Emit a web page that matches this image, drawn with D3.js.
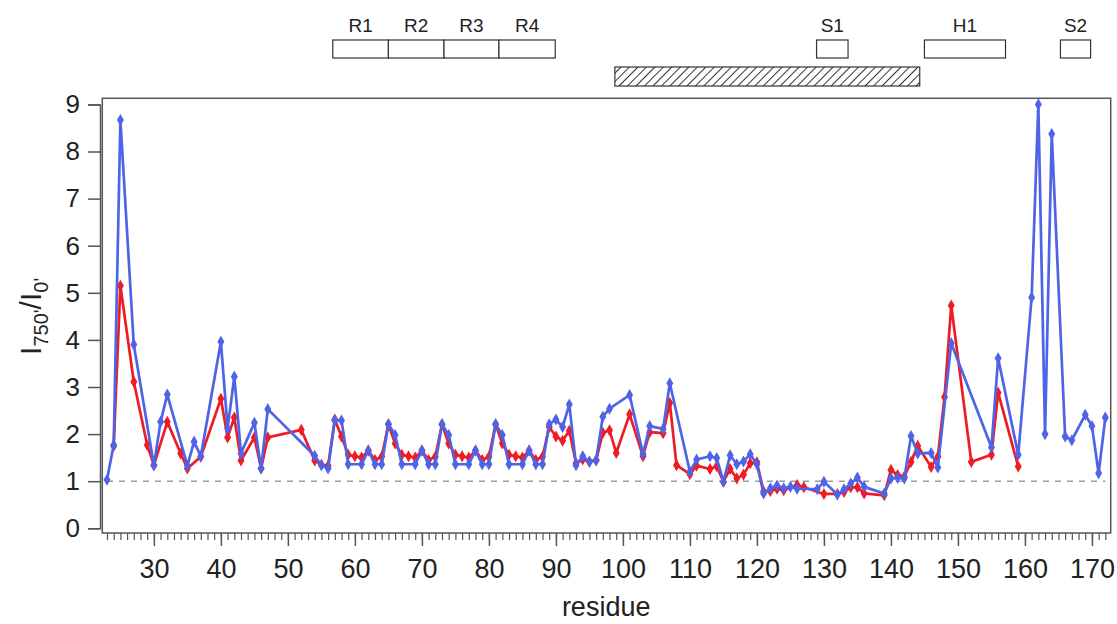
<!DOCTYPE html>
<html>
<head>
<meta charset="utf-8">
<script src="https://cdn.jsdelivr.net/npm/d3@7/dist/d3.min.js"></script>
<style>
  body { margin: 0; background: #fff; }
  svg { display: block; font-family: Arial, "Liberation Sans", sans-serif; }
</style>
</head>
<body>
<div id="chart"></div>
<script>
// blue series (residue, ratio)
const blueRes = [23,24,25,27,30,31,32,35,36,37,40,41,42,43,45,46,47,54,55,56,
  57,58,59,61,62,63,64,65,66,67,69,70,71,72,73,74,75,77,78,79,80,81,82,83,85,86,87,88,89,
  90,91,92,93,94,95,96,97,98,101,103,104,106,107,110,111,113,114,115,116,117,118,119,120,
  121,122,123,124,125,126,129,130,132,133,134,135,136,139,140,141,142,143,144,146,147,149,
  155,156,159,161,162,163,164,166,167,169,170,171,172];
const blueVal = [1.03,1.77,8.67,3.90,1.34,2.26,2.84,1.33,1.84,1.53,3.96,2.12,3.22,1.59,2.24,1.27,2.53,1.54,1.34,1.27,
  2.29,2.29,1.36,1.36,1.65,1.36,1.36,2.21,1.98,1.36,1.36,1.65,1.36,1.36,2.21,1.98,1.36,1.36,1.65,1.36,1.36,2.21,1.98,1.36,1.36,1.65,1.36,1.36,2.21,
  2.31,2.15,2.63,1.34,1.53,1.41,1.45,2.37,2.54,2.83,1.58,2.17,2.11,3.08,1.20,1.46,1.53,1.49,0.99,1.55,1.36,1.42,1.57,1.36,
  0.74,0.85,0.91,0.85,0.88,0.84,0.83,0.99,0.72,0.83,0.95,1.08,0.88,0.74,1.06,1.07,1.06,1.96,1.59,1.60,1.29,3.93,
  1.72,3.61,1.56,4.90,9.00,2.00,8.37,1.95,1.87,2.41,2.17,1.17,2.35];

// red series
const redRes = [24,25,27,29,30,32,34,35,37,40,41,42,43,45,46,47,52,54,55,56,
  57,58,59,60,61,62,63,64,65,66,67,68,69,70,71,72,73,74,75,76,77,78,79,80,81,82,83,84,85,86,87,88,89,
  90,91,92,93,94,95,96,97,98,99,101,103,104,106,107,108,110,111,113,114,115,116,117,118,119,120,
  121,122,123,124,126,127,130,132,133,134,135,136,139,140,141,142,143,144,146,147,148,149,152,155,156,159];
const redVal = [1.75,5.15,3.11,1.77,1.34,2.26,1.59,1.27,1.52,2.75,1.93,2.35,1.44,1.93,1.27,1.93,2.09,1.44,1.35,1.33,
  2.31,1.95,1.56,1.53,1.50,1.65,1.45,1.52,2.21,1.80,1.56,1.53,1.50,1.65,1.45,1.52,2.21,1.80,1.56,1.53,1.50,1.65,1.45,1.52,2.21,1.80,1.56,1.53,1.50,1.65,1.45,1.52,2.15,
  1.95,1.86,2.07,1.38,1.46,1.42,1.44,2.03,2.08,1.60,2.42,1.53,2.04,2.02,2.66,1.34,1.15,1.33,1.26,1.32,0.99,1.26,1.06,1.14,1.38,1.40,
  0.78,0.79,0.84,0.81,0.92,0.87,0.73,0.73,0.77,0.87,0.87,0.74,0.70,1.24,1.13,1.10,1.41,1.75,1.30,1.52,2.79,4.73,1.41,1.56,2.88,1.31];

// ticks
const yTicks = [0,1,2,3,4,5,6,7,8,9];
const xMajor = [30,40,50,60,70,80,90,100,110,120,130,140,150,160,170];
const xMinor = d3.range(23, 173);

// domain annotations above the plot (residue ranges)
const boxNames = ["R1","R2","R3","R4","S1","H1","S2"];
const boxStart = [56.7,65.0,73.3,81.5,128.9,145.0,165.3];
const boxEnd   = [65.0,73.3,81.5,89.9,133.6,157.1,169.8];
const hatchRange = [98.8, 144.3];

const W = 1117, H = 624;
const svg = d3.select("#chart").append("svg").attr("width", W).attr("height", H);

const x = d3.scaleLinear().domain([22.3, 172.8]).range([102.3, 1110.7]);
const y = d3.scaleLinear().domain([0, 9]).range([528.3, 104.4]);
const yLo = -0.1, yHi = 9.13;

const blue = "#4f63e6", red = "#ee1c25";

// frame
svg.append("rect")
  .attr("x", x(22.3)).attr("y", y(yHi))
  .attr("width", x(172.8) - x(22.3)).attr("height", y(yLo) - y(yHi))
  .attr("fill", "none").attr("stroke", "#555").attr("stroke-width", 1.5);

// y axis
const gy = svg.append("g").attr("transform", "translate(100,0)")
  .call(d3.axisLeft(y).tickValues(yTicks).tickSize(12).tickPadding(8).tickFormat(d3.format("d")));
gy.selectAll("text").attr("font-size", 26).attr("fill", "#222");
gy.selectAll("line, path").attr("stroke", "#555").attr("stroke-width", 1.5);

// x axis: minor then major
const gxMinor = svg.append("g").attr("transform", `translate(0,${y(yLo)})`)
  .call(d3.axisBottom(x).tickValues(xMinor).tickSize(7).tickFormat(""));
gxMinor.select(".domain").remove();
gxMinor.selectAll("line").attr("stroke", "#555").attr("stroke-width", 1.2);

const gx = svg.append("g").attr("transform", `translate(0,${y(yLo)})`)
  .call(d3.axisBottom(x).tickValues(xMajor).tickSize(13).tickPadding(13).tickFormat(d3.format("d")));
gx.select(".domain").remove();
gx.selectAll("line").attr("stroke", "#555").attr("stroke-width", 1.5);
gx.selectAll("text").attr("font-size", 27).attr("fill", "#222")
  .attr("font-family", "'Liberation Sans Narrow', 'Arial Narrow', Arial, sans-serif");

// reference line at 1
svg.append("line")
  .attr("x1", x(23)).attr("x2", x(172))
  .attr("y1", y(1)).attr("y2", y(1))
  .attr("stroke", "#999").attr("stroke-width", 1.5).attr("stroke-dasharray", "6,6");

// series
function drawSeries(res, val, color) {
  const pts = res.map((r, i) => [r, val[i]]);
  const line = d3.line().x(d => x(d[0])).y(d => y(d[1]));
  svg.append("path").datum(pts)
    .attr("d", line).attr("fill", "none")
    .attr("stroke", color).attr("stroke-width", 2.7).attr("stroke-linejoin", "round");
  svg.append("g").selectAll("path").data(pts).join("path")
    .attr("transform", d => `translate(${x(d[0])},${y(d[1])})`)
    .attr("d", d3.symbol().type(d3.symbolDiamond).size(42))
    .attr("fill", color);
}
drawSeries(redRes, redVal, red);
drawSeries(blueRes, blueVal, blue);

// axis titles
svg.append("text").attr("x", x(97.5)).attr("y", 616)
  .attr("text-anchor", "middle").attr("font-size", 27).attr("fill", "#222").text("residue");

const yt = svg.append("text")
  .attr("transform", `translate(41,${(y(0) + y(9)) / 2}) rotate(-90)`)
  .attr("text-anchor", "middle").attr("font-size", 30).attr("fill", "#222");
yt.append("tspan").text("I");
yt.append("tspan").attr("font-size", 20).attr("dy", 7).text("750'");
yt.append("tspan").attr("dy", -7).text("/I");
yt.append("tspan").attr("font-size", 20).attr("dy", 7).text("0'");

// hatch pattern
const defs = svg.append("defs");
const pat = defs.append("pattern").attr("id", "hatch")
  .attr("patternUnits", "userSpaceOnUse").attr("width", 6).attr("height", 6)
  .attr("patternTransform", "rotate(45)");
pat.append("rect").attr("width", 6).attr("height", 6).attr("fill", "#fff");
pat.append("line").attr("x1", 0).attr("y1", 0).attr("x2", 0).attr("y2", 6)
  .attr("stroke", "#333").attr("stroke-width", 2);

// annotation boxes
const ann = svg.append("g");
ann.selectAll("rect").data(boxNames).join("rect")
  .attr("x", (d, i) => x(boxStart[i])).attr("y", 40)
  .attr("width", (d, i) => x(boxEnd[i]) - x(boxStart[i])).attr("height", 18)
  .attr("fill", "#fff").attr("stroke", "#333").attr("stroke-width", 1.2);
ann.selectAll("text").data(boxNames).join("text")
  .attr("x", (d, i) => (x(boxStart[i]) + x(boxEnd[i])) / 2).attr("y", 32)
  .attr("text-anchor", "middle").attr("font-size", 19).attr("fill", "#222").text(d => d);
svg.append("rect")
  .attr("x", x(hatchRange[0])).attr("y", 67)
  .attr("width", x(hatchRange[1]) - x(hatchRange[0])).attr("height", 19)
  .attr("fill", "url(#hatch)").attr("stroke", "#333").attr("stroke-width", 1.2);
</script>
</body>
</html>
